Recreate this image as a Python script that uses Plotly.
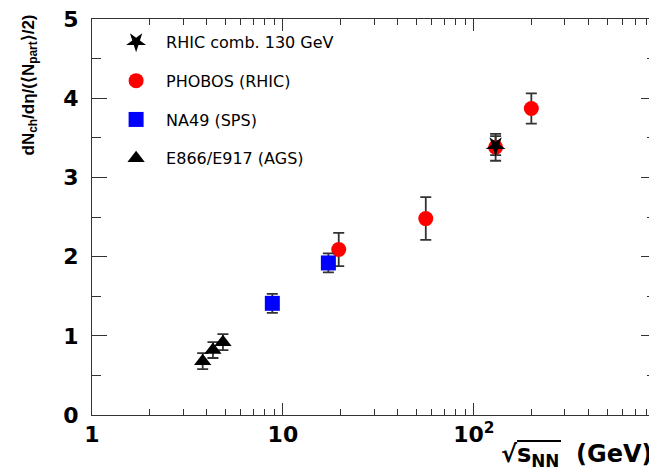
import plotly.graph_objects as go

# ---- data ----
phobos_x = [19.6, 56, 130, 200]
phobos_y = [2.09, 2.48, 3.38, 3.87]
phobos_err = [0.21, 0.27, 0.17, 0.19]

rhic_x = [130]
rhic_y = [3.40]
rhic_err = [0.12]

na49_x = [8.8, 17.3]
na49_y = [1.41, 1.92]
na49_err = [0.12, 0.12]

ags_x = [3.8, 4.3, 4.85]
ags_y = [0.68, 0.82, 0.92]
ags_err = [0.10, 0.10, 0.10]

x_major = [1, 10, 100]
x_major_text = ["1", "10", "10<sup>2</sup>"]
x_minor = [2, 3, 4, 5, 6, 7, 8, 9, 20, 30, 40, 50, 60, 70, 80, 90,
           200, 300, 400, 500, 600, 700, 800]
y_major = [0, 1, 2, 3, 4, 5]
y_minor = [0.5, 1.5, 2.5, 3.5, 4.5]

FONT = "Liberation Sans"
WIDE = "DejaVu Sans"
ERRCOL = "#333333"


def err(a):
    return dict(type="data", array=a, visible=True, color=ERRCOL,
                thickness=1.8, width=5.5)


fig = go.Figure()
fig.add_trace(go.Scatter(x=phobos_x, y=phobos_y, error_y=err(phobos_err),
                         mode="markers", name="PHOBOS (RHIC)",
                         legendgroup="b", legendrank=2,
                         marker=dict(symbol="circle", size=15, color="#ff0000")))
fig.add_trace(go.Scatter(x=rhic_x, y=rhic_y, error_y=err(rhic_err),
                         mode="markers", name="RHIC comb. 130 GeV",
                         legendgroup="a", legendrank=1,
                         marker=dict(symbol="star", angle=180, size=15, color="black")))
fig.add_trace(go.Scatter(x=na49_x, y=na49_y, error_y=err(na49_err),
                         mode="markers", name="NA49 (SPS)",
                         legendgroup="c", legendrank=3,
                         marker=dict(symbol="square", size=15, color="#0000ff")))
fig.add_trace(go.Scatter(x=ags_x, y=ags_y, error_y=err(ags_err),
                         mode="markers", name="E866/E917 (AGS)",
                         legendgroup="d", legendrank=4,
                         marker=dict(symbol="triangle-up", size=15, color="black")))

# The page body has an 8px margin, so the figure is drawn 8px smaller and
# all screen positions below are measured from the window's corner.
OFF = 8
SW, SH = 657, 473           # window size
L, T, RX, BY = 92, 19, 656, 415   # plot frame in window pixels
W, H = SW - OFF, SH - OFF

fig.update_layout(
    width=W, height=H,
    margin=dict(l=L - OFF, r=SW - RX, t=T - OFF, b=SH - BY),
    paper_bgcolor="white", plot_bgcolor="white",
    font=dict(family=FONT, color="black"),
    legend=dict(x=0.025, y=0.985, xanchor="left", yanchor="top",
                traceorder="grouped", tracegroupgap=15, itemwidth=50,
                font=dict(family=WIDE, size=16, color="black"),
                bgcolor="rgba(0,0,0,0)"),
    showlegend=True,
)

fig.update_xaxes(
    type="log", range=[0, 2.954], automargin=False,
    tickmode="array", tickvals=x_major, ticktext=x_major_text,
    ticks="inside", ticklen=12, tickwidth=1, tickcolor="#333",
    showline=True, linecolor="#333", linewidth=1, mirror="allticks",
    showgrid=False, zeroline=False, ticklabeloverflow="allow",
    tickfont=dict(family=WIDE, size=22, weight="bold", color="black"),
    minor=dict(tickmode="array", tickvals=x_minor, ticks="inside",
               ticklen=6, tickcolor="#333", tickwidth=1, showgrid=False),
)
fig.update_yaxes(
    range=[0, 5], automargin=False,
    tickmode="array", tickvals=y_major,
    ticks="inside", ticklen=15, tickwidth=1, tickcolor="#333",
    showline=True, linecolor="#333", linewidth=1, mirror="allticks",
    showgrid=False, zeroline=False, ticklabeloverflow="allow",
    ticklabelstandoff=8,
    tickfont=dict(family=WIDE, size=22, weight="bold", color="black"),
    minor=dict(tickmode="array", tickvals=y_minor, ticks="inside",
               ticklen=9, tickcolor="#333", tickwidth=1, showgrid=False),
)

plot_w = RX - L
plot_h = BY - T


def px(x):
    return (x - L) / plot_w


def py(y):
    return (BY - y) / plot_h


fig.add_annotation(
    text="dN<sub>ch</sub>/dη/(⟨N<sub>part</sub>⟩/2)",
    xref="paper", yref="paper",
    x=px(29), y=py(13),
    xanchor="center", yanchor="top", textangle=-90, showarrow=False,
    font=dict(family=FONT, size=17, weight="bold", color="black"),
)
fig.add_annotation(
    text="√s<sub>NN</sub>\u00a0 (GeV)",
    xref="paper", yref="paper",
    x=px(655), y=py(455),
    xanchor="right", yanchor="middle", showarrow=False,
    font=dict(family=WIDE, size=24, weight="bold", color="black"),
)
# bar of the radical sign over s_NN
fig.add_shape(type="line", xref="paper", yref="paper",
              x0=px(517), x1=px(561), y0=py(441), y1=py(441),
              line=dict(color="black", width=2))

fig.write_html("out.html")
